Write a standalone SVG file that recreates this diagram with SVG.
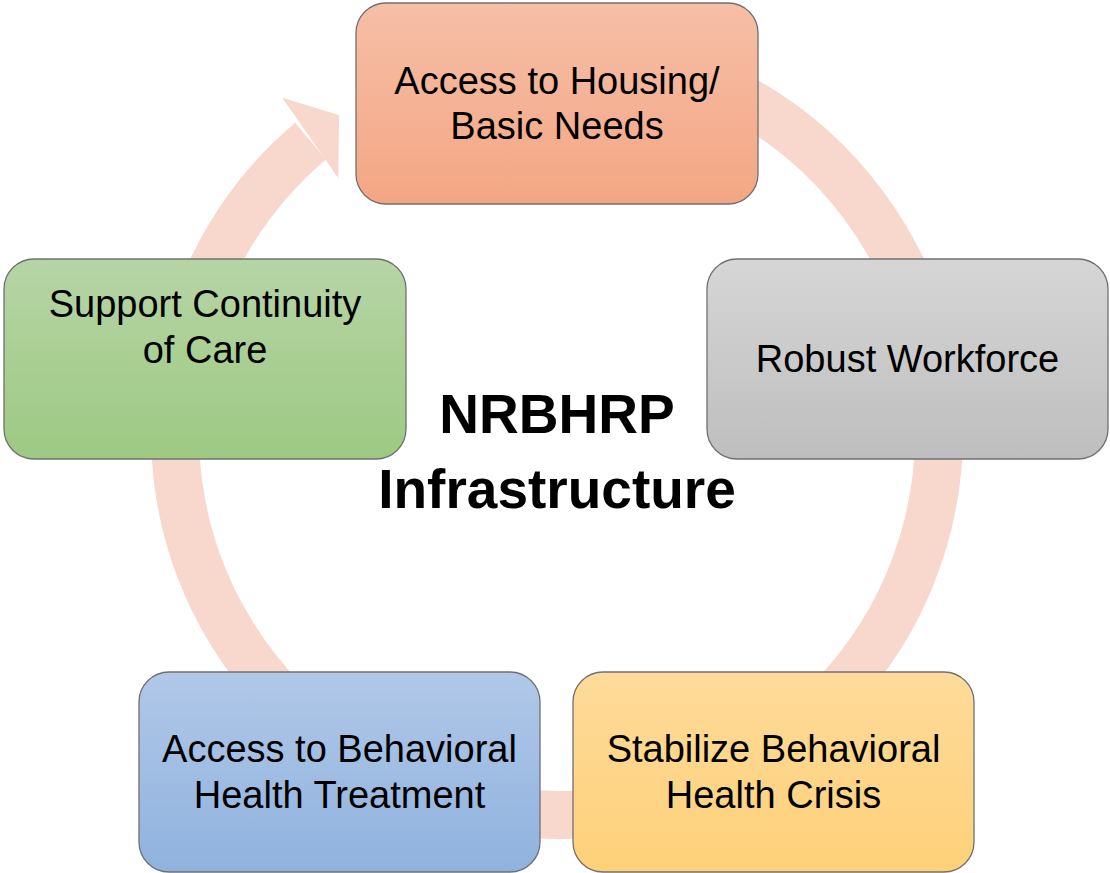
<svg xmlns="http://www.w3.org/2000/svg" width="1110" height="873" viewBox="0 0 1110 873">
  <defs>
    <linearGradient id="gOrange" x1="0" y1="0" x2="0" y2="1">
      <stop offset="0" stop-color="#F6BFA7"/>
      <stop offset="1" stop-color="#F4A683"/>
    </linearGradient>
    <linearGradient id="gGray" x1="0" y1="0" x2="0" y2="1">
      <stop offset="0" stop-color="#D6D6D6"/>
      <stop offset="1" stop-color="#BEBEBE"/>
    </linearGradient>
    <linearGradient id="gGreen" x1="0" y1="0" x2="0" y2="1">
      <stop offset="0" stop-color="#B6D5A6"/>
      <stop offset="1" stop-color="#9DC982"/>
    </linearGradient>
    <linearGradient id="gBlue" x1="0" y1="0" x2="0" y2="1">
      <stop offset="0" stop-color="#B1C8E8"/>
      <stop offset="1" stop-color="#8FB2DE"/>
    </linearGradient>
    <linearGradient id="gGold" x1="0" y1="0" x2="0" y2="1">
      <stop offset="0" stop-color="#FEDB9A"/>
      <stop offset="1" stop-color="#FED079"/>
    </linearGradient>
  </defs>
  <style>
    .box { stroke: #707070; stroke-width: 1.3; }
    .lbl { font-family: "Liberation Sans", Arial, sans-serif; font-size: 38px; fill: #000; text-anchor: middle; }
    .title { font-family: "Liberation Sans", Arial, sans-serif; font-size: 55px; font-weight: bold; fill: #000; text-anchor: middle; }
    .ring { fill: none; stroke: #F8D8CD; stroke-width: 48; }
    .head { fill: #F8D8CD; }
  </style>

  <g id="connectors">
    <path class="ring" d="M 557 51 A 382 382 0 1 1 310.6 141.1"/>
    <polygon class="head" points="282.3,97.7 339,115 338.3,178.3"/>
  </g>

  <g id="node-housing">
    <rect class="box" x="356" y="3" width="402" height="201" rx="30" ry="30" fill="url(#gOrange)"/>
    <text class="lbl" x="557" y="94">Access to Housing/</text>
    <text class="lbl" x="557" y="139">Basic Needs</text>
  </g>

  <g id="node-workforce">
    <rect class="box" x="707" y="259" width="401" height="200" rx="30" ry="30" fill="url(#gGray)"/>
    <text class="lbl" x="907.5" y="372">Robust Workforce</text>
  </g>

  <g id="node-crisis">
    <rect class="box" x="573" y="672" width="401" height="200" rx="30" ry="30" fill="url(#gGold)"/>
    <text class="lbl" x="773.5" y="762">Stabilize Behavioral</text>
    <text class="lbl" x="773.5" y="808">Health Crisis</text>
  </g>

  <g id="node-treatment">
    <rect class="box" x="139" y="672" width="401" height="200" rx="30" ry="30" fill="url(#gBlue)"/>
    <text class="lbl" x="339.5" y="762">Access to Behavioral</text>
    <text class="lbl" x="339.5" y="808">Health Treatment</text>
  </g>

  <g id="node-continuity">
    <rect class="box" x="4" y="259" width="402" height="200" rx="30" ry="30" fill="url(#gGreen)"/>
    <text class="lbl" x="205" y="317">Support Continuity</text>
    <text class="lbl" x="205" y="363">of Care</text>
  </g>

  <g id="center-title">
    <text class="title" x="557" y="433">NRBHRP</text>
    <text class="title" x="557" y="508">Infrastructure</text>
  </g>
</svg>
